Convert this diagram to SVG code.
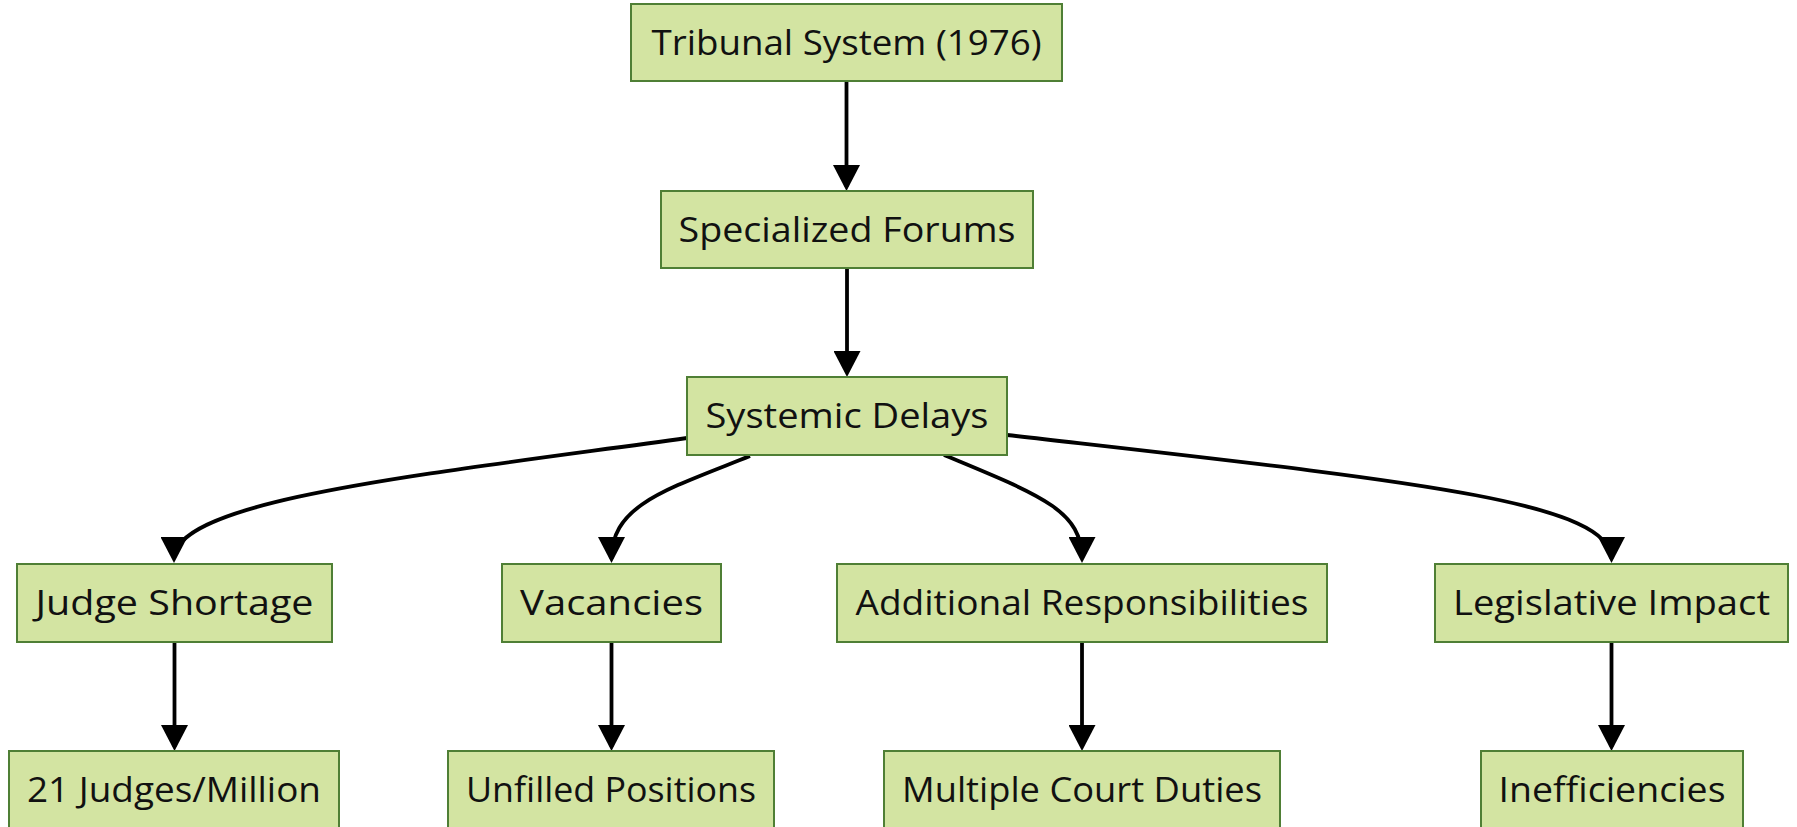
<svg xmlns="http://www.w3.org/2000/svg" width="1797" height="827" viewBox="0 0 1797 827">
<style>
.box{fill:#d3e4a2;stroke:#4f7f35;stroke-width:2}
.lbl{font-family:"Open Sans","Liberation Sans",sans-serif;font-size:34px;fill:#111;text-anchor:middle}
.edge{fill:none;stroke:#000;stroke-width:3.8}
</style>
<defs>
<marker id="arr" viewBox="0 0 26 27" refX="22" refY="13.5" markerWidth="26" markerHeight="27" markerUnits="userSpaceOnUse" orient="auto">
<path d="M0,0 L26,13.5 L0,27 z" fill="#000"/>
</marker>
</defs>
<rect width="1797" height="827" fill="#fff"/>
<g id="connectors">
<path class="edge" marker-end="url(#arr)" d="M846.5,81 L846.5,187"/>
<path class="edge" marker-end="url(#arr)" d="M847,268 L847,373"/>
<path class="edge" marker-end="url(#arr)" d="M687,438 C420,475 174,500 174,559"/>
<path class="edge" marker-end="url(#arr)" d="M750,456 C665,490 611.5,505 611.5,559"/>
<path class="edge" marker-end="url(#arr)" d="M944,455 C1040,495 1082,510 1082,559"/>
<path class="edge" marker-end="url(#arr)" d="M1007,435 C1400,480 1611.5,500 1611.5,559"/>
<path class="edge" marker-end="url(#arr)" d="M174.5,642 L174.5,747"/>
<path class="edge" marker-end="url(#arr)" d="M611.5,642 L611.5,747"/>
<path class="edge" marker-end="url(#arr)" d="M1082,642 L1082,747"/>
<path class="edge" marker-end="url(#arr)" d="M1611.5,642 L1611.5,747"/>
</g>
<g id="tribunal"><rect class="box" x="631" y="4" width="431" height="77"/><text class="lbl" x="846.5" y="55" textLength="390" lengthAdjust="spacingAndGlyphs">Tribunal System (1976)</text></g>
<g id="specialized"><rect class="box" x="661" y="191" width="372" height="77"/><text class="lbl" x="847" y="242" textLength="337" lengthAdjust="spacingAndGlyphs">Specialized Forums</text></g>
<g id="systemic"><rect class="box" x="687" y="377" width="320" height="78"/><text class="lbl" x="847" y="428" textLength="283" lengthAdjust="spacingAndGlyphs">Systemic Delays</text></g>
<g id="judge-shortage"><rect class="box" x="17" y="564" width="315" height="78"/><text class="lbl" x="174.5" y="615" textLength="278" lengthAdjust="spacingAndGlyphs">Judge Shortage</text></g>
<g id="vacancies"><rect class="box" x="502" y="564" width="219" height="78"/><text class="lbl" x="611.5" y="615" textLength="183" lengthAdjust="spacingAndGlyphs">Vacancies</text></g>
<g id="additional"><rect class="box" x="837" y="564" width="490" height="78"/><text class="lbl" x="1082" y="615" textLength="453" lengthAdjust="spacingAndGlyphs">Additional Responsibilities</text></g>
<g id="legislative"><rect class="box" x="1435" y="564" width="353" height="78"/><text class="lbl" x="1611.5" y="615" textLength="317" lengthAdjust="spacingAndGlyphs">Legislative Impact</text></g>
<g id="judges-million"><rect class="box" x="9" y="751" width="330" height="78"/><text class="lbl" x="174" y="802" textLength="294" lengthAdjust="spacingAndGlyphs">21 Judges/Million</text></g>
<g id="unfilled"><rect class="box" x="448" y="751" width="326" height="78"/><text class="lbl" x="611" y="802" textLength="290" lengthAdjust="spacingAndGlyphs">Unfilled Positions</text></g>
<g id="multiple"><rect class="box" x="884" y="751" width="396" height="78"/><text class="lbl" x="1082" y="802" textLength="360" lengthAdjust="spacingAndGlyphs">Multiple Court Duties</text></g>
<g id="inefficiencies"><rect class="box" x="1481" y="751" width="262" height="78"/><text class="lbl" x="1612" y="802" textLength="227" lengthAdjust="spacingAndGlyphs">Inefficiencies</text></g>
</svg>
